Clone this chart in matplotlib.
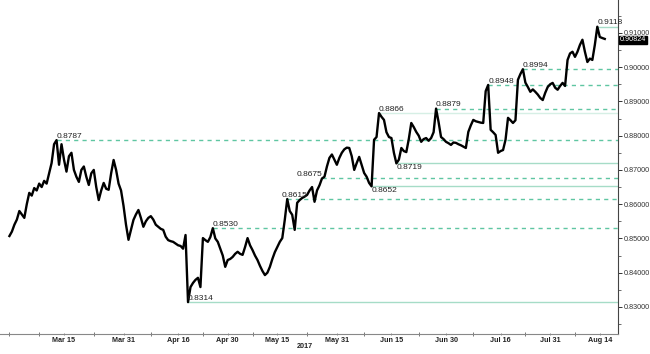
import numpy as np
import pandas as pd
import matplotlib
matplotlib.use("Agg")
import matplotlib.pyplot as plt
from matplotlib.ticker import MultipleLocator, FixedLocator, FixedFormatter, FormatStrFormatter

# EUR/GBP, two readings per business day, 28 Feb -> 15 Aug 2017
days = pd.bdate_range("2017-02-28", "2017-08-15")
price = [
    0.8507, 0.8520, 0.8540, 0.8555, 0.8580, 0.8570, 0.8560, 0.8600, 0.8633, 0.8625,
    0.8647, 0.8640, 0.8660, 0.8650, 0.8668, 0.8660, 0.8690, 0.8720, 0.8775, 0.8787,
    0.8715, 0.8775, 0.8730, 0.8695, 0.8740, 0.8750, 0.8700, 0.8680, 0.8665, 0.8700,
    0.8710, 0.8680, 0.8656, 0.8690, 0.8700, 0.8650, 0.8612, 0.8640, 0.8662, 0.8645,
    0.8642, 0.8690, 0.8729, 0.8700, 0.8660, 0.8640, 0.8595, 0.8540, 0.8496, 0.8525,
    0.8554, 0.8570, 0.8583, 0.8560, 0.8534, 0.8550, 0.8560, 0.8565, 0.8555, 0.8540,
    0.8534, 0.8528, 0.8525, 0.8505, 0.8495, 0.8492, 0.8490, 0.8485, 0.8480, 0.8478,
    0.8470, 0.8510, 0.8314, 0.8358, 0.8370, 0.8379, 0.8385, 0.8358, 0.8501, 0.8495,
    0.8490, 0.8504, 0.8530, 0.8500, 0.8490, 0.8470, 0.8450, 0.8417, 0.8437, 0.8440,
    0.8446, 0.8455, 0.8461, 0.8455, 0.8452, 0.8475, 0.8501, 0.8480, 0.8466, 0.8450,
    0.8437, 0.8420, 0.8405, 0.8393, 0.8400, 0.8417, 0.8440, 0.8460, 0.8475, 0.8490,
    0.8501, 0.8554, 0.8615, 0.8580, 0.8569, 0.8525, 0.8604, 0.8612, 0.8618, 0.8622,
    0.8627, 0.8640, 0.8650, 0.8607, 0.8640, 0.8655, 0.8675, 0.8680, 0.8710, 0.8735,
    0.8745, 0.8730, 0.8715, 0.8735, 0.8750, 0.8760, 0.8765, 0.8764, 0.8740, 0.8700,
    0.8720, 0.8738, 0.8715, 0.8691, 0.8680, 0.8662, 0.8652, 0.8788, 0.8796, 0.8866,
    0.8855, 0.8846, 0.8810, 0.8796, 0.8793, 0.8750, 0.8719, 0.8730, 0.8764, 0.8755,
    0.8752, 0.8790, 0.8837, 0.8825, 0.8811, 0.8800, 0.8782, 0.8790, 0.8793, 0.8785,
    0.8793, 0.8810, 0.8879, 0.8840, 0.8796, 0.8790, 0.8782, 0.8778, 0.8773, 0.8780,
    0.8779, 0.8775, 0.8772, 0.8768, 0.8764, 0.8811, 0.8830, 0.8846, 0.8842, 0.8840,
    0.8838, 0.8837, 0.8930, 0.8948, 0.8817, 0.8810, 0.8802, 0.8750, 0.8755, 0.8758,
    0.8788, 0.8852, 0.8845, 0.8837, 0.8845, 0.8963, 0.8980, 0.8994, 0.8955, 0.8942,
    0.8928, 0.8935, 0.8928, 0.8920, 0.8910, 0.8904, 0.8925, 0.8942, 0.8950, 0.8954,
    0.8940, 0.8934, 0.8945, 0.8954, 0.8945, 0.9021, 0.9040, 0.9045, 0.9030, 0.9045,
    0.9065, 0.9080, 0.9045, 0.9015, 0.9025, 0.9021, 0.9065, 0.9118, 0.9088, 0.9085,
    0.90824,
]
last_price = 0.90824

tick_dates = ["2017-03-15", "2017-03-31", "2017-04-16", "2017-04-30", "2017-05-15",
              "2017-05-31", "2017-06-15", "2017-06-30", "2017-07-16", "2017-07-31",
              "2017-08-14"]
tick_labels = ["Mar 15", "Mar 31", "Apr 16", "Apr 30", "May 15", "May 31",
               "Jun 15", "Jun 30", "Jul 16", "Jul 31", "Aug 14"]

# swing highs / lows marked on the chart
levels = [0.9118, 0.8994, 0.8948, 0.8879, 0.8866, 0.8787,
          0.8719, 0.8675, 0.8652, 0.8615, 0.8530, 0.8314]
is_low = [False, False, False, False, False, False,
          True, False, True, False, False, False]
solid = [0.9118, 0.8866, 0.8719, 0.8652, 0.8314]

FONT = "Liberation Sans"

price = np.array(price)
x = np.arange(len(price))

fig = plt.figure(figsize=(6.5, 3.54), dpi=100)
ax = fig.add_axes([0, 0.0565, 0.951, 0.9435])
x_right = 245.4
ax.set_xlim(-3.8, x_right)
ax.set_ylim(0.8221, 0.9196)

ax.plot(x, price, color="black", lw=1.7, zorder=3)

for lvl, low in zip(levels, is_low):
    start = int(np.flatnonzero(np.isclose(price, lvl))[0])
    if lvl == 0.8866:
        color, ls = "#d6efe5", "-"
    elif lvl in solid:
        color, ls = "#a6dcc7", "-"
    else:
        color, ls = "#5fc6a2", (0, (3, 3))
    ax.hlines(lvl, start, x_right, color=color, lw=1.0, linestyles=[ls], zorder=1)
    tx, ha = start, "left"
    if lvl == 0.8675:
        ha = "right"
    elif lvl == 0.8615:
        tx = start - 2.4
    ax.text(tx, lvl + (-0.0002 if low else 0.0001), f"{lvl:.4f}", family=FONT,
            ha=ha, va="top" if low else "bottom", fontsize=6, color="#222222", zorder=4)

# right-hand price axis
ax.yaxis.tick_right()
ax.yaxis.set_major_locator(MultipleLocator(0.01))
ax.yaxis.set_minor_locator(MultipleLocator(0.005))
ax.yaxis.set_major_formatter(FormatStrFormatter("%.5f"))
ax.tick_params(axis="y", which="major", length=3, width=0.7, labelsize=5.2,
               colors="#333333", pad=1)
ax.tick_params(axis="y", which="minor", length=2, width=0.6, colors="#555555")

ax.text(1.003, last_price - 0.0002, f"{last_price:.5f}", transform=ax.get_yaxis_transform(),
        ha="left", va="center", fontsize=5.2, color="white", family=FONT,
        bbox=dict(boxstyle="square,pad=0.08", fc="black", ec="black"), zorder=5)

# business-day time axis: labels on minor ticks, major ticks between them
label_pos = [2 * days.searchsorted(pd.Timestamp(d)) for d in tick_dates]
mids = [(a + b) / 2 for a, b in zip(label_pos[:-1], label_pos[1:])]
major_pos = [0, label_pos[0] - 10] + mids
ax.xaxis.set_major_locator(FixedLocator(major_pos))
ax.xaxis.set_major_formatter(FixedFormatter([""] * len(major_pos)))
ax.xaxis.set_minor_locator(FixedLocator(label_pos))
ax.xaxis.set_minor_formatter(FixedFormatter(tick_labels))
ax.tick_params(axis="x", which="major", length=3, width=0.7, direction="inout",
               colors="#777777")
ax.tick_params(axis="x", which="minor", length=2, width=0.6, direction="inout",
               labelsize=5.2, labelcolor="#222222", colors="#777777", pad=1.5)

for lab in ax.get_yticklabels() + ax.get_xticklabels(minor=True):
    lab.set_family(FONT)
for lab in ax.get_xticklabels(minor=True):
    lab.set_fontweight("bold")

for side in ("left", "top"):
    ax.spines[side].set_visible(False)
ax.spines["bottom"].set_color("#888888")
ax.spines["bottom"].set_linewidth(0.8)
ax.spines["right"].set_color("#444444")
ax.spines["right"].set_linewidth(0.8)

fig.text(305 / 650, 1 - 346 / 354, "2017", fontsize=5.2, color="#222222",
         family=FONT, fontweight="bold", ha="center", va="center")

fig.savefig("out.png", dpi=100)
